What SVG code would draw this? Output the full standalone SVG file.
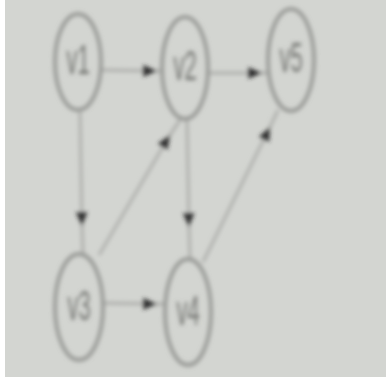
<svg xmlns="http://www.w3.org/2000/svg" width="386" height="383" viewBox="0 0 386 383">
<defs>
<marker id="ah" viewBox="0 0 12 10" refX="12" refY="5" markerWidth="14" markerHeight="12" markerUnits="userSpaceOnUse" orient="auto">
<path d="M0,0 L12,5 L0,10 z" fill="#2e2e2e"/>
</marker>
<filter id="blur" x="-10%" y="-10%" width="120%" height="120%"><feGaussianBlur stdDeviation="2"/></filter>
</defs>
<style>
.node ellipse{fill:none;stroke:#939491;stroke-width:3.5}
.node text{font-family:"Liberation Sans",Arial,sans-serif;font-size:22px;fill:#737471;text-anchor:middle}
.edge{fill:none;stroke:#a5a6a3;stroke-width:2.4;marker-mid:url(#ah)}
</style>
<rect x="0" y="0" width="386" height="383" fill="#ffffff"/>
<rect x="5" y="0" width="381" height="377" fill="#d3d5d1"/>
<g filter="url(#blur)">
<g id="connectors">
<path class="edge" d="M102,70 L157,71 L162,71"/>
<path class="edge" d="M208,73 L262,73 L268,73"/>
<path class="edge" d="M80,112 L82,226 L83,254"/>
<path class="edge" d="M187,120 L189,227 L190,258"/>
<path class="edge" d="M99,255 L170,135 L180,120"/>
<path class="edge" d="M203,262 L270,127 L278,110"/>
<path class="edge" d="M103,303 L157,304 L165,304"/>
</g>
<g id="v1" class="node"><ellipse cx="78" cy="62" rx="23" ry="48"/><text transform="translate(78,74) scale(1,1.9)">v1</text></g>
<g id="v2" class="node"><ellipse cx="185" cy="68" rx="23" ry="51"/><text transform="translate(185,80) scale(1,1.9)">v2</text></g>
<g id="v5" class="node"><ellipse cx="291" cy="60" rx="23" ry="51"/><text transform="translate(291,72) scale(1,1.9)">v5</text></g>
<g id="v3" class="node"><ellipse cx="79" cy="307" rx="24" ry="53"/><text transform="translate(79,320) scale(1,1.9)">v3</text></g>
<g id="v4" class="node"><ellipse cx="188" cy="312" rx="23" ry="53"/><text transform="translate(188,325) scale(1,1.9)">v4</text></g>
</g>
</svg>
